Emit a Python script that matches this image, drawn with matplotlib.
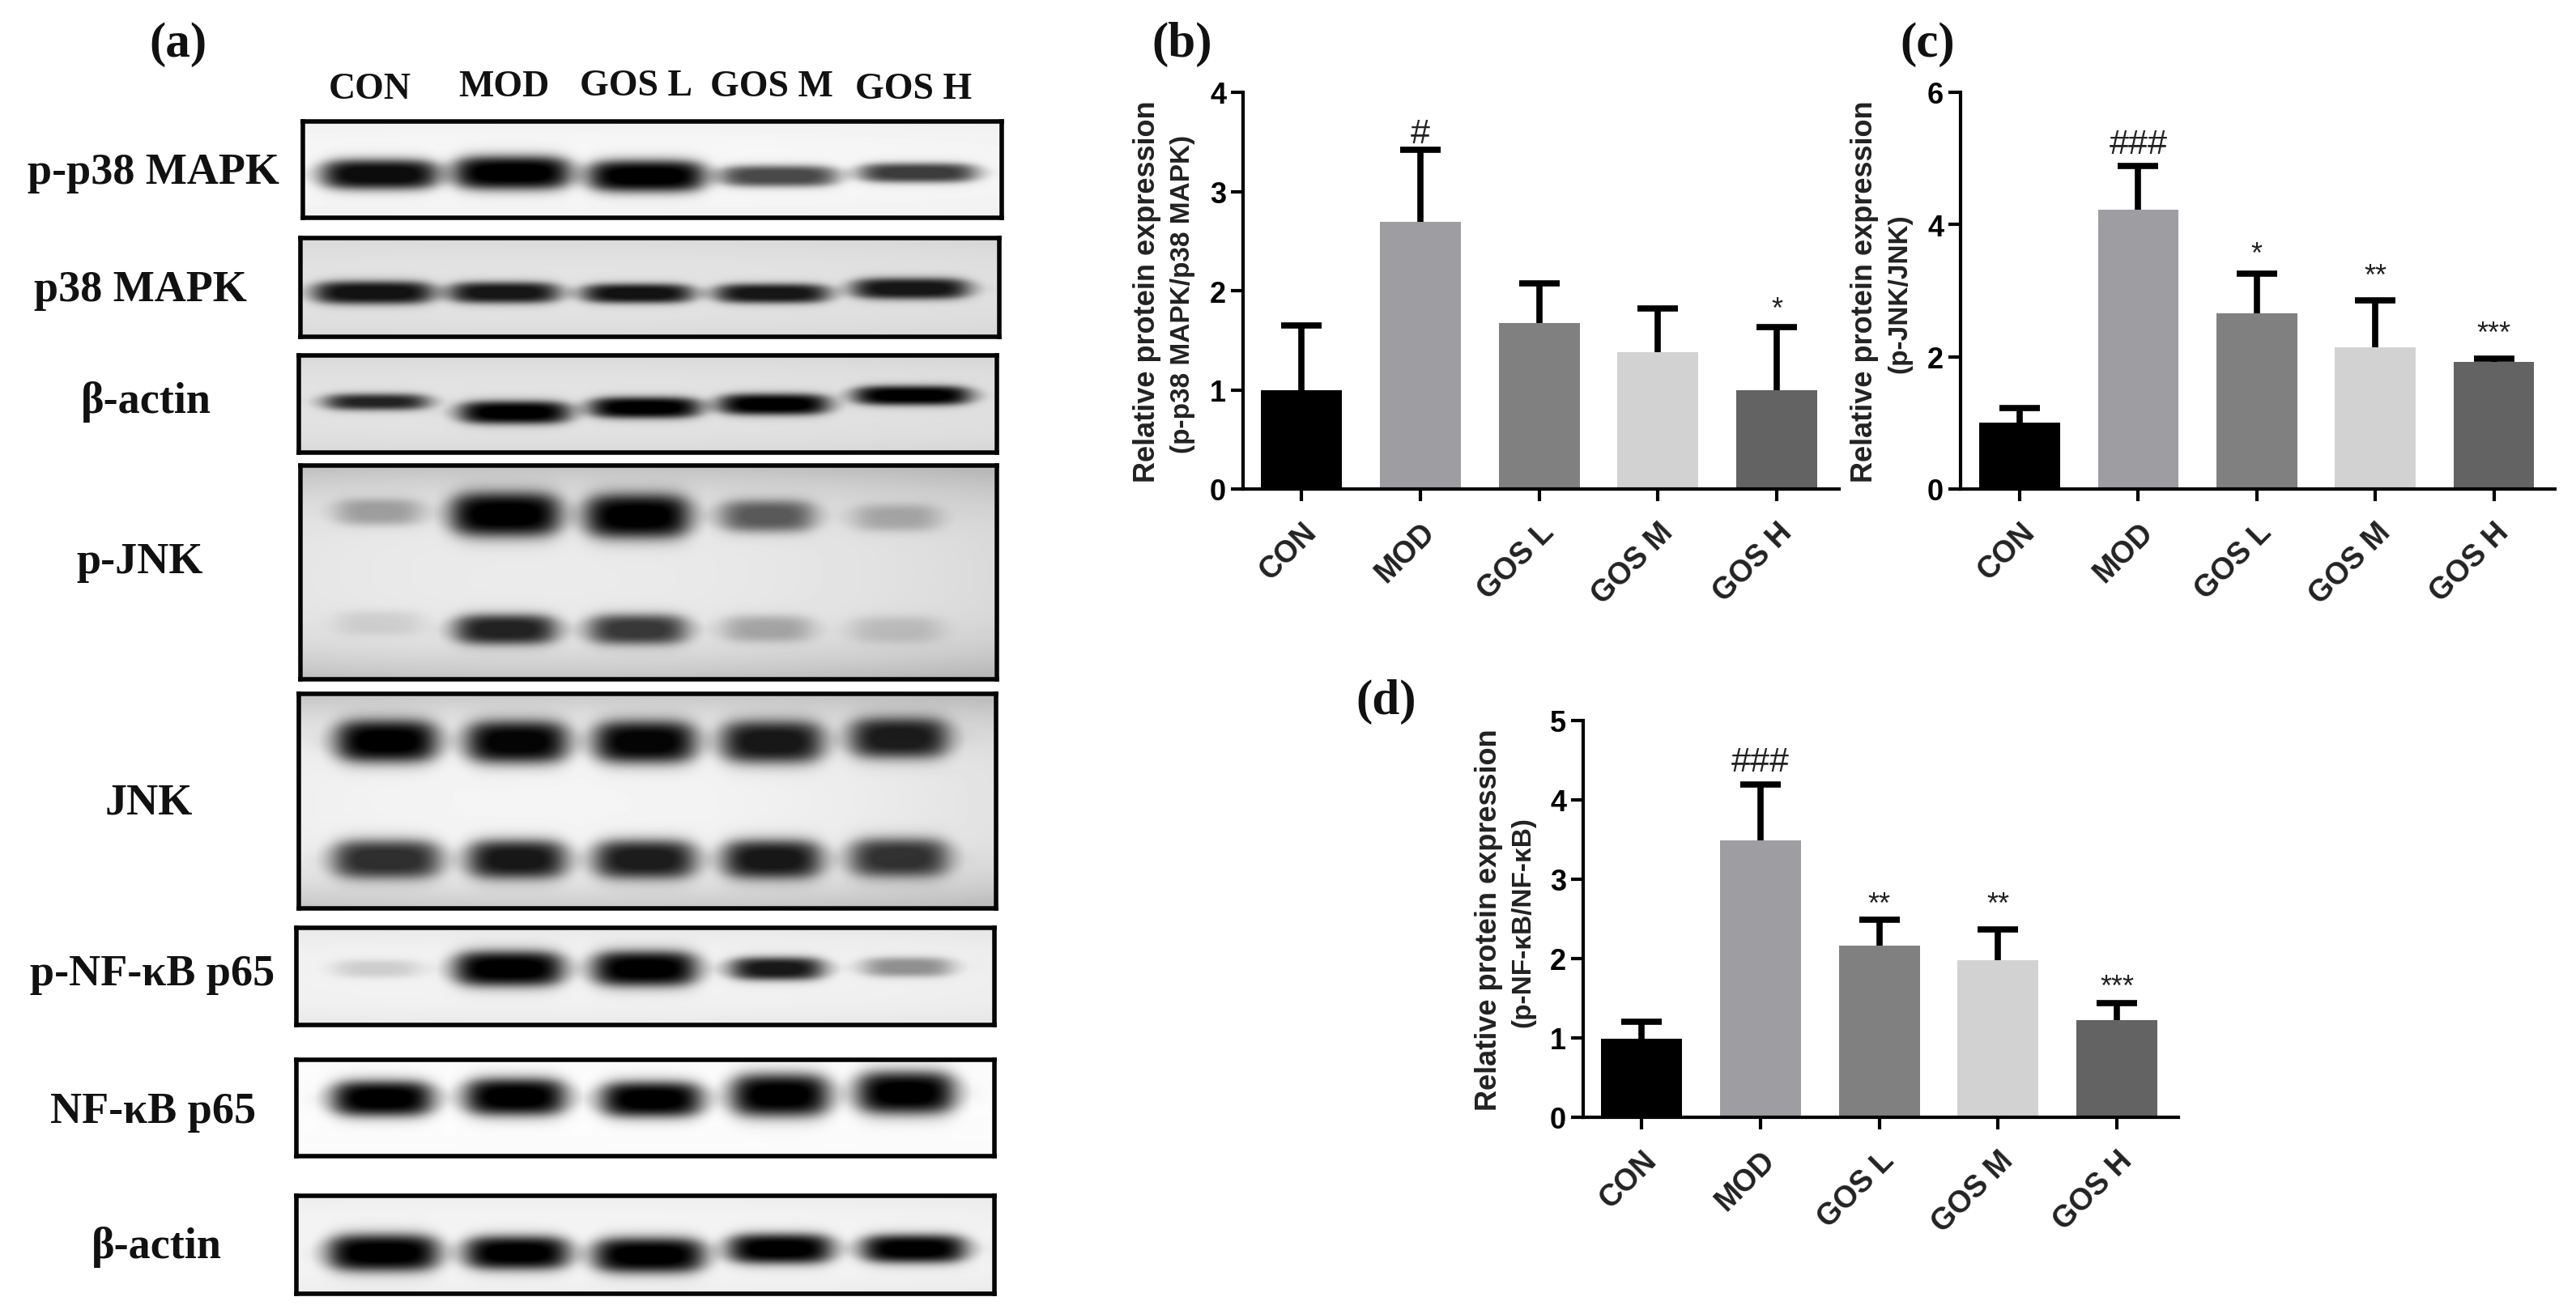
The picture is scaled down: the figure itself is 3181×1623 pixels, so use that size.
import numpy as np
import matplotlib
matplotlib.use("Agg")
import matplotlib.pyplot as plt
from matplotlib.transforms import ScaledTranslation

W, H = 3181, 1624
SERIF = "Liberation Serif"
SANS = "Liberation Sans"

groups = ["CON", "MOD", "GOS L", "GOS M", "GOS H"]
bar_colors = ["#000000", "#9e9ea2", "#808080", "#d2d2d2", "#636363"]

p38_values = [1.0, 2.69, 1.67, 1.38, 1.0]
p38_tops = [1.65, 3.42, 2.07, 1.82, 1.63]
p38_marks = ["", "#", "", "", "*"]
p38_mark_y = [0, 3.58, 0, 0, 1.81]

jnk_values = [1.0, 4.23, 2.66, 2.14, 1.92]
jnk_tops = [1.23, 4.89, 3.26, 2.85, 1.97]
jnk_marks = ["", "###", "*", "**", "***"]
jnk_mark_y = [0, 5.22, 3.55, 3.22, 2.35]

nfkb_values = [0.99, 3.49, 2.16, 1.98, 1.22]
nfkb_tops = [1.2, 4.19, 2.49, 2.37, 1.44]
nfkb_marks = ["", "###", "**", "**", "***"]
nfkb_mark_y = [0, 4.48, 2.68, 2.68, 1.64]

# band darkness per lane, read by eye from the blots
dark_p_p38 = [0.95, 1.0, 1.0, 0.7, 0.75]
dark_p38 = [0.92, 0.9, 0.92, 0.9, 0.9]
dark_actin1 = [0.85, 1.0, 1.0, 1.0, 1.0]
dark_p_jnk_up = [0.3, 1.0, 1.0, 0.6, 0.25]
dark_p_jnk_low = [0.1, 0.85, 0.75, 0.27, 0.15]
dark_jnk_up = [1.0, 0.98, 0.98, 0.9, 0.88]
dark_jnk_low = [0.8, 0.9, 0.88, 0.9, 0.78]
dark_p_nf = [0.15, 1.0, 1.0, 0.9, 0.4]
dark_nf = [1.0, 1.0, 1.0, 1.0, 1.0]
dark_actin2 = [1.0, 1.0, 1.0, 1.0, 1.0]

# frame (x0, x1, y0, y1), background centre and edge grey, then rows of
# (lane x, lane y, half width, half height, darkness), all in figure pixels
blots = [
    ((374, 1237, 151, 270), 0.97, 0.94, [
        ([469, 632, 798, 961, 1133], [216, 214, 218, 218, 214], [70, 70, 70, 70, 70], [17, 19, 18, 12, 11], dark_p_p38)]),
    ((371, 1234, 295, 417), 0.89, 0.84, [
        ([461, 622, 787, 953, 1124], [362, 362, 363, 363, 357], [72, 66, 66, 68, 70], [13, 12, 11, 11, 12], dark_p38)]),
    ((369, 1231, 440, 560), 0.89, 0.84, [
        ([465, 635, 796, 955, 1126], [497, 510, 504, 500, 489], [62, 66, 66, 66, 70], [9, 13, 12, 12, 11], dark_actin1)]),
    ((371, 1231, 576, 840), 0.92, 0.72, [
        ([467, 624, 787, 947, 1106], [633, 636, 638, 638, 640], [50, 65, 62, 55, 50], [15, 25, 25, 18, 15], dark_p_jnk_up),
        ([467, 624, 787, 947, 1106], [770, 778, 778, 777, 778], [50, 60, 58, 52, 52], [14, 17, 17, 15, 15], dark_p_jnk_low)]),
    ((369, 1230, 858, 1123), 0.96, 0.74, [
        ([477, 638, 796, 953, 1110], [916, 917, 917, 917, 912], [60, 60, 60, 60, 58], [24, 24, 24, 24, 23], dark_jnk_up),
        ([477, 638, 796, 953, 1110], [1062, 1062, 1062, 1062, 1060], [64, 58, 60, 58, 58], [22, 22, 22, 22, 22], dark_jnk_low)]),
    ((366, 1228, 1147, 1267), 0.95, 0.9, [
        ([465, 628, 796, 959, 1120], [1197, 1197, 1197, 1197, 1195], [50, 65, 62, 55, 52], [10, 20, 20, 13, 11], dark_p_nf)]),
    ((366, 1228, 1310, 1429), 0.99, 0.98, [
        ([472, 636, 804, 963, 1118], [1358, 1356, 1359, 1354, 1351], [60, 60, 60, 58, 58], [20, 21, 20, 24, 24], dark_nf)]),
    ((366, 1228, 1478, 1599), 0.96, 0.92, [
        ([473, 638, 801, 963, 1128], [1548, 1548, 1551, 1543, 1543], [66, 62, 66, 62, 62], [21, 19, 20, 17, 16], dark_actin2)]),
]

blot_labels = [
    ("p-p38 MAPK", 189, 214), ("p38 MAPK", 173, 359), ("β-actin", 180, 496),
    ("p-JNK", 173, 695), ("JNK", 184, 993), ("p-NF-κB p65", 188, 1204),
    ("NF-κB p65", 189, 1374), ("β-actin", 193, 1541),
]
lane_headers = [
    ("CON", 457, 111), ("MOD", 622, 108), ("GOS L", 785, 107),
    ("GOS M", 953, 108), ("GOS H", 1128, 111),
]
panel_letters = [("(a)", 220, 55), ("(b)", 1460, 55), ("(c)", 2380, 55), ("(d)", 1712, 867)]


def ax_px(fig, x0, x1, y0, y1):
    """Axes from figure pixels, y counted from the top."""
    return fig.add_axes([x0 / W, 1 - y1 / H, (x1 - x0) / W, (y1 - y0) / H])


def fig_text(fig, s, x, y, **kw):
    fig.text(x / W, 1 - y / H, s, ha="center", va="center", **kw)


def draw_blot(fig, frame, bg_mid, bg_edge, rows):
    x0, x1, y0, y1 = frame
    xx, yy = np.meshgrid(np.arange(x0, x1), np.arange(y0, y1))
    nx = (xx - (x0 + x1) / 2) / ((x1 - x0) / 2)
    ny = (yy - (y0 + y1) / 2) / ((y1 - y0) / 2)
    img = bg_mid - (bg_mid - bg_edge) * np.clip(0.8 * np.abs(ny) ** 3 + 0.2 * np.abs(nx + 0.3) ** 2, 0, 1)
    for lane_x, lane_y, half_w, half_h, dark in rows:
        for cx, cy, hw, hh, d in zip(lane_x, lane_y, half_w, half_h, dark):
            sx, sy = 20.0, max(5.0, hh * 0.45)
            fx = 0.5 * (np.tanh((xx - cx + hw) / sx) - np.tanh((xx - cx - hw) / sx))
            # rounded band ends
            hh_x = hh * np.sqrt(np.clip(1 - ((xx - cx) / (hw + 25)) ** 4, 0.05, 1))
            fy = 0.5 * (np.tanh((yy - cy + hh_x) / sy) - np.tanh((yy - cy - hh_x) / sy))
            img *= 1 - np.clip(d, 0, 1) * np.clip(1.1 * fx * fy, 0, 1)
    ax = ax_px(fig, x0, x1, y0, y1)
    ax.imshow(img, cmap="gray", vmin=0, vmax=1, aspect="auto", interpolation="bilinear")
    ax.set_xticks([])
    ax.set_yticks([])
    for sp in ax.spines.values():
        sp.set_linewidth(4)
        sp.set_color("#050505")


def draw_bars(fig, rect, ymax, yticks, values, tops, marks, mark_y, ylabel, label_x):
    x0, x1, y0, y1 = rect["x0"], rect["x1"], rect["y0"], rect["y1"]
    ax = ax_px(fig, x0, x1, y0, y1)
    pos = np.arange(len(groups))
    ax.bar(pos, values, width=0.68, color=bar_colors, zorder=2)
    yerr = [np.zeros(len(values)), np.array(tops) - np.array(values)]
    eb = ax.errorbar(pos, values, yerr=yerr, fmt="none", ecolor="black", elinewidth=5.5,
                     capsize=18, capthick=5.5, zorder=1)
    eb[1][0].set_visible(False)  # no lower cap
    ax.set_xlim((x0 - rect["c0"]) / rect["step"], (x1 - rect["c0"]) / rect["step"])
    ax.set_ylim(0, ymax)
    ax.set_yticks(yticks)
    ax.set_xticks(pos)
    ax.set_xticklabels(groups, rotation=45, ha="right", rotation_mode="anchor",
                       family=SANS, fontweight="bold", fontsize=27, color="#222222")
    shift = ScaledTranslation(-14 / 100, 0, fig.dpi_scale_trans)
    for lab in ax.get_xticklabels():
        lab.set_transform(lab.get_transform() + shift)
    ax.tick_params(axis="x", length=11, width=3, pad=14)
    ax.tick_params(axis="y", length=11, width=3, pad=4, labelsize=26)
    for lab in ax.get_yticklabels():
        lab.set_family(SANS)
        lab.set_fontweight("bold")
    for side in ("top", "right"):
        ax.spines[side].set_visible(False)
    for side in ("left", "bottom"):
        ax.spines[side].set_linewidth(3)
    for p, m, my in zip(pos, marks, mark_y):
        if m:
            size = 31 if m[0] == "#" else 26
            ax.text(p, my, m, ha="center", va="center", family=SANS, fontsize=size, color="#222222")
    mid = (y0 + y1) / 2
    fig_text(fig, "Relative protein expression", label_x, mid, rotation=90,
             family=SANS, fontweight="bold", fontsize=26, color="#222222")
    fig_text(fig, ylabel, label_x + 43, mid + 3, rotation=90,
             family=SANS, fontweight="bold", fontsize=24, color="#222222")


fig = plt.figure(figsize=(W / 100, H / 100), dpi=100, facecolor="white")

for frame, bg_mid, bg_edge, rows in blots:
    draw_blot(fig, frame, bg_mid, bg_edge, rows)
for s, x, y in blot_labels:
    fig_text(fig, s, x, y, family=SERIF, fontweight="bold", fontsize=39, color="#111111")
for s, x, y in lane_headers:
    fig_text(fig, s, x, y, family=SERIF, fontweight="bold", fontsize=33, color="#111111")
for s, x, y in panel_letters:
    fig_text(fig, s, x, y, family=SERIF, fontweight="bold", fontsize=44, color="#111111")

draw_bars(fig, dict(x0=1535, x1=2271, y0=115, y1=605, c0=1607, step=146.8), 4, [0, 1, 2, 3, 4],
          p38_values, p38_tops, p38_marks, p38_mark_y, "(p-p38 MAPK/p38 MAPK)", 1417)
draw_bars(fig, dict(x0=2421, x1=3155, y0=115, y1=605, c0=2494, step=146.4), 6, [0, 2, 4, 6],
          jnk_values, jnk_tops, jnk_marks, jnk_mark_y, "(p-JNK/JNK)", 2303)
draw_bars(fig, dict(x0=1955, x1=2690, y0=891, y1=1381, c0=2027, step=146.8), 5, [0, 1, 2, 3, 4, 5],
          nfkb_values, nfkb_tops, nfkb_marks, nfkb_mark_y, "(p-NF-κB/NF-κB)", 1838)

fig.savefig("out.png", dpi=100, facecolor="white")
